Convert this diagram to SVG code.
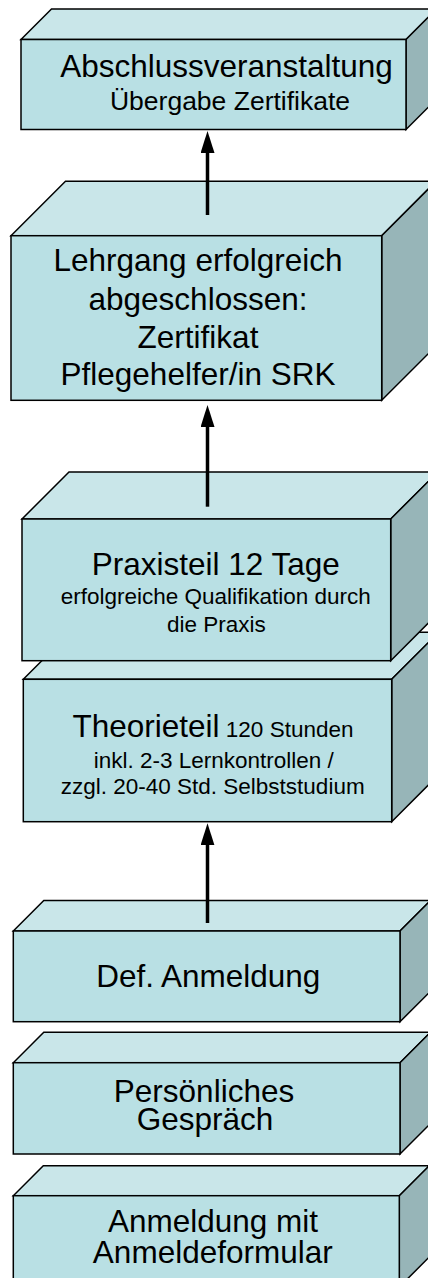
<svg xmlns="http://www.w3.org/2000/svg" width="428" height="1278" viewBox="0 0 428 1278">
<style>
.front{fill:#b9e0e4;stroke:#000;stroke-width:1.5;stroke-linejoin:miter}
.top{fill:#c9e6e9;stroke:#000;stroke-width:1.5;stroke-linejoin:miter}
.side{fill:#97b5b8;stroke:#000;stroke-width:1.5;stroke-linejoin:miter}
text{font-family:"Liberation Sans",Arial,sans-serif;fill:#000;text-anchor:middle}
.big{font-size:31.5px}
.mid{font-size:26.5px}
.sm{font-size:22.5px}
.conn{stroke:#000;stroke-width:3.5;fill:none}
</style>
<defs>
<marker id="ah" viewBox="0 0 22 14" refX="10" refY="7" markerWidth="22" markerHeight="14" markerUnits="userSpaceOnUse" orient="auto">
<path d="M0,0 L22,7 L0,14 z" fill="#000"/>
</marker>
</defs>
<rect width="428" height="1278" fill="#fff"/>
<g id="node-abschluss">
<polygon class="top" points="21,39.5 51.5,9 436.5,9 406,39.5"/>
<polygon class="side" points="406,39.5 436.5,9 436.5,99 406,129.5"/>
<rect class="front" x="21" y="39.5" width="385" height="90"/>
<text class="big" x="226.5" y="77.3">Abschlussveranstaltung</text>
<text class="mid" x="230" y="110">Übergabe Zertifikate</text>
</g>
<g id="node-lehrgang">
<polygon class="top" points="11,235.7 65.5,181.2 436.2,181.2 381.7,235.7"/>
<polygon class="side" points="381.7,235.7 436.2,181.2 436.2,345.8 381.7,400.3"/>
<rect class="front" x="11" y="235.7" width="370.7" height="164.6"/>
<text class="big" x="198" y="270.5">Lehrgang erfolgreich</text>
<text class="big" x="198" y="310">abgeschlossen:</text>
<text class="big" x="198" y="347.7">Zertifikat</text>
<text class="big" x="198" y="385">Pflegehelfer/in SRK</text>
</g>
<g id="node-theorie">
<polygon class="top" points="23.3,679.3 70.3,632.3 438.7,632.3 391.7,679.3"/>
<polygon class="side" points="391.7,679.3 438.7,632.3 438.7,774.7 391.7,821.7"/>
<rect class="front" x="23.3" y="679.3" width="368.4" height="142.4"/>
<text x="213" y="736.7"><tspan class="big">Theorieteil</tspan><tspan class="sm"> 120 Stunden</tspan></text>
<text class="sm" x="213.8" y="767.7">inkl. 2-3 Lernkontrollen /</text>
<text class="sm" x="212.7" y="794">zzgl. 20-40 Std. Selbststudium</text>
</g>
<g id="node-praxis">
<polygon class="top" points="22,519 69,472 437.7,472 390.7,519"/>
<polygon class="side" points="390.7,519 437.7,472 437.7,613.7 390.7,660.7"/>
<rect class="front" x="22" y="519" width="368.7" height="141.7"/>
<text class="big" x="215.8" y="575">Praxisteil 12 Tage</text>
<text class="sm" x="215.8" y="604">erfolgreiche Qualifikation durch</text>
<text class="sm" x="216.3" y="631.7">die Praxis</text>
</g>
<g id="node-def">
<polygon class="top" points="13.3,931 43.8,900.5 430.5,900.5 400,931"/>
<polygon class="side" points="400,931 430.5,900.5 430.5,991.2 400,1021.7"/>
<rect class="front" x="13.3" y="931" width="386.7" height="90.7"/>
<text class="big" x="208.3" y="986.7">Def. Anmeldung</text>
</g>
<g id="node-gespraech">
<polygon class="top" points="13.3,1062.7 43.8,1032.2 430.5,1032.2 400,1062.7"/>
<polygon class="side" points="400,1062.7 430.5,1032.2 430.5,1123.5 400,1154"/>
<rect class="front" x="13.3" y="1062.7" width="386.7" height="91.3"/>
<text class="big" x="204" y="1101.7">Persönliches</text>
<text class="big" x="205" y="1129.5">Gespräch</text>
</g>
<g id="node-anmeldung">
<polygon class="top" points="13.3,1195.7 43.3,1165.7 429.3,1165.7 399.3,1195.7"/>
<polygon class="side" points="399.3,1195.7 429.3,1165.7 429.3,1257 399.3,1287"/>
<rect class="front" x="13.3" y="1195.7" width="386" height="91.3"/>
<text class="big" x="213" y="1231.7">Anmeldung mit</text>
<text class="big" x="212.8" y="1263.3">Anmeldeformular</text>
</g>
<g id="connectors">
<line class="conn" x1="207.5" y1="215" x2="207.5" y2="143" marker-end="url(#ah)"/>
<line class="conn" x1="207.5" y1="506.7" x2="207.5" y2="417" marker-end="url(#ah)"/>
<line class="conn" x1="207.5" y1="923" x2="207.5" y2="835.3" marker-end="url(#ah)"/>
</g>
</svg>
